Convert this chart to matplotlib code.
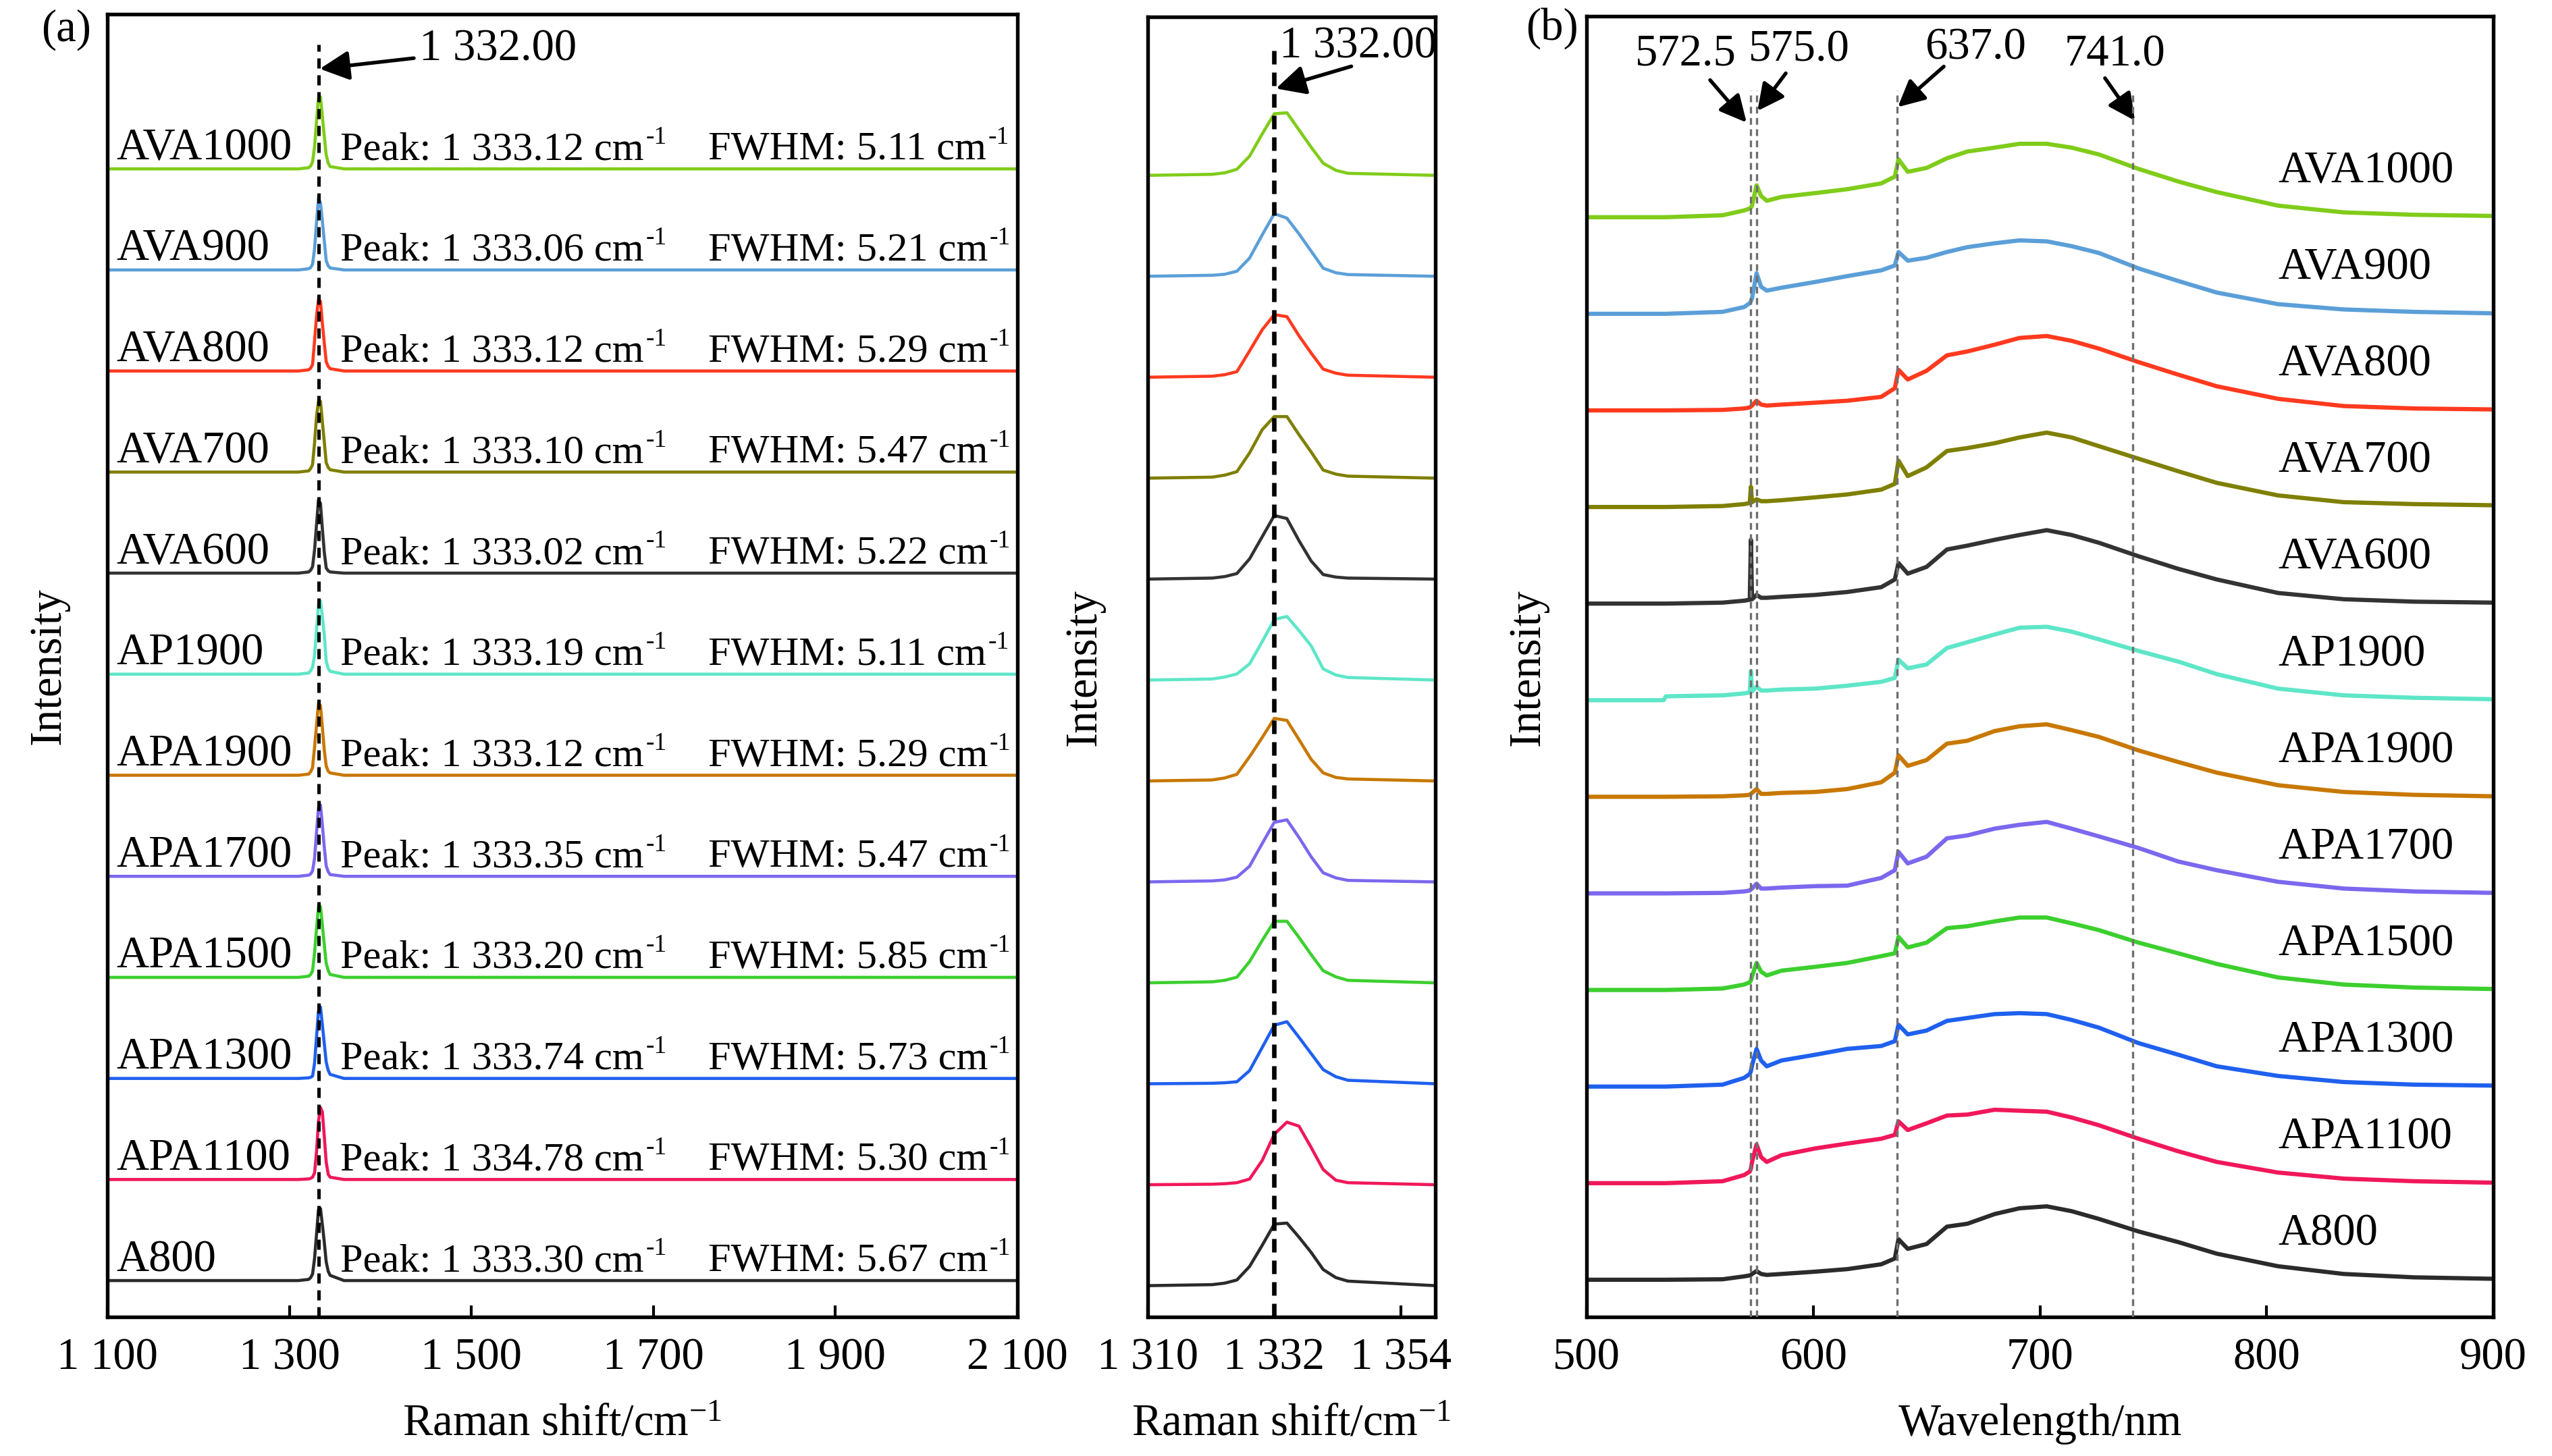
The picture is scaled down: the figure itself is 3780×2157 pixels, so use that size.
import numpy as np
import matplotlib
matplotlib.use('Agg')
import matplotlib.pyplot as plt

plt.rcParams['font.family'] = ['Liberation Serif', 'DejaVu Serif']
plt.rcParams['mathtext.fontset'] = 'custom'
plt.rcParams['mathtext.rm'] = 'Liberation Serif'
plt.rcParams['mathtext.it'] = 'Liberation Serif:italic'
plt.rcParams['mathtext.bf'] = 'Liberation Serif:bold'

# samples, bottom -> top
samples = ['A800', 'APA1100', 'APA1300', 'APA1500', 'APA1700', 'APA1900',
           'AP1900', 'AVA600', 'AVA700', 'AVA800', 'AVA900', 'AVA1000']
colors = ['#2b2b2b', '#f0185a', '#1f60ee', '#3ccf2e', '#7b68ee', '#c87800',
          '#5ee6c8', '#333333', '#7f7f00', '#ff3a1f', '#5b9fd8', '#80cc1a']
peak_pos = [1333.30, 1334.78, 1333.74, 1333.20, 1333.35, 1333.12,
            1333.19, 1333.02, 1333.10, 1333.12, 1333.06, 1333.12]
fwhm = [5.67, 5.30, 5.73, 5.85, 5.47, 5.29, 5.11, 5.22, 5.47, 5.29, 5.21, 5.11]

# Raman spectra (normalised intensity)
raman_x = [1100, 1310, 1321.2, 1323.4, 1325.5, 1327.7, 1329.9, 1332.0, 1334.2,
           1336.3, 1338.4, 1340.5, 1342.7, 1344.8, 1360, 2100]
raman_a800 = [0, 0, 0.01, 0.025, 0.056, 0.19, 0.40, 0.61, 0.62, 0.48, 0.33, 0.16, 0.08, 0.045, 0, 0]
raman_apa1100 = [0, 0, 0.005, 0.01, 0.02, 0.056, 0.24, 0.50, 0.62, 0.58, 0.37, 0.15, 0.045, 0.02, 0, 0]
raman_apa1300 = [0, 0, 0.005, 0.01, 0.02, 0.13, 0.36, 0.58, 0.615, 0.46, 0.30, 0.14, 0.07, 0.035, 0, 0]
raman_apa1500 = [0, 0, 0.01, 0.025, 0.056, 0.21, 0.42, 0.61, 0.61, 0.45, 0.28, 0.12, 0.06, 0.025, 0, 0]
raman_apa1700 = [0, 0, 0.01, 0.02, 0.047, 0.155, 0.38, 0.59, 0.615, 0.44, 0.25, 0.09, 0.04, 0.015, 0, 0]
raman_apa1900 = [0, 0, 0.01, 0.03, 0.066, 0.24, 0.43, 0.62, 0.60, 0.41, 0.215, 0.08, 0.035, 0.02, 0, 0]
raman_ap1900 = [0, 0, 0.01, 0.03, 0.06, 0.16, 0.38, 0.60, 0.63, 0.49, 0.34, 0.11, 0.05, 0.025, 0, 0]
raman_ava600 = [0, 0, 0.01, 0.025, 0.055, 0.20, 0.42, 0.63, 0.60, 0.38, 0.18, 0.045, 0.02, 0.01, 0, 0]
raman_ava700 = [0, 0, 0.01, 0.03, 0.064, 0.25, 0.48, 0.61, 0.61, 0.43, 0.26, 0.08, 0.04, 0.02, 0, 0]
raman_ava800 = [0, 0, 0.01, 0.025, 0.055, 0.26, 0.47, 0.62, 0.60, 0.41, 0.24, 0.08, 0.04, 0.02, 0, 0]
raman_ava900 = [0, 0, 0.01, 0.02, 0.05, 0.18, 0.41, 0.62, 0.576, 0.42, 0.25, 0.08, 0.035, 0.017, 0, 0]
raman_ava1000 = [0, 0, 0.01, 0.025, 0.06, 0.19, 0.41, 0.61, 0.62, 0.45, 0.28, 0.12, 0.05, 0.02, 0, 0]
raman_all = [raman_a800, raman_apa1100, raman_apa1300, raman_apa1500, raman_apa1700,
             raman_apa1900, raman_ap1900, raman_ava600, raman_ava700, raman_ava800,
             raman_ava900, raman_ava1000]

# PL spectra
wl = [500, 534, 535, 560, 569.5, 572.0, 572.5, 573.0, 575.0, 577.0, 579.5, 586, 601,
      615, 630, 636, 637.6, 641.7, 650, 659, 668, 680, 691, 703, 714, 726, 743.5,
      761, 778, 805, 834, 865, 900]
pl_a800 = [0, 0, 0, 0.005, 0.035, 0.045, 0.05, 0.06, 0.09, 0.06, 0.05, 0.06, 0.084,
           0.11, 0.16, 0.22, 0.42, 0.32, 0.37, 0.55, 0.58, 0.68, 0.74, 0.76, 0.71,
           0.63, 0.50, 0.39, 0.27, 0.14, 0.06, 0.025, 0.01]
pl_apa1100 = [0, 0, 0, 0.02, 0.084, 0.12, 0.15, 0.22, 0.40, 0.27, 0.22, 0.29, 0.36,
              0.41, 0.46, 0.50, 0.64, 0.55, 0.62, 0.70, 0.71, 0.76, 0.75, 0.74, 0.68,
              0.60, 0.46, 0.33, 0.22, 0.11, 0.047, 0.02, 0.005]
pl_apa1300 = [0, 0, 0, 0.02, 0.09, 0.13, 0.16, 0.22, 0.39, 0.27, 0.21, 0.27, 0.33,
              0.39, 0.42, 0.47, 0.64, 0.54, 0.58, 0.68, 0.71, 0.75, 0.76, 0.75, 0.69,
              0.61, 0.45, 0.33, 0.21, 0.11, 0.047, 0.02, 0.01]
pl_apa1500 = [0, 0, 0, 0.015, 0.056, 0.08, 0.10, 0.14, 0.28, 0.19, 0.15, 0.20, 0.24,
              0.28, 0.35, 0.38, 0.55, 0.44, 0.49, 0.64, 0.66, 0.71, 0.75, 0.75, 0.69,
              0.62, 0.49, 0.38, 0.27, 0.13, 0.056, 0.025, 0.01]
pl_apa1700 = [0, 0, 0, 0.005, 0.02, 0.03, 0.04, 0.05, 0.10, 0.05, 0.05, 0.06, 0.075,
              0.08, 0.16, 0.24, 0.43, 0.31, 0.38, 0.57, 0.60, 0.67, 0.71, 0.74, 0.67,
              0.59, 0.47, 0.33, 0.24, 0.12, 0.05, 0.02, 0.005]
pl_apa1900 = [0, 0, 0, 0.005, 0.015, 0.02, 0.03, 0.04, 0.08, 0.03, 0.03, 0.04, 0.05,
              0.08, 0.15, 0.25, 0.43, 0.32, 0.38, 0.55, 0.58, 0.68, 0.73, 0.75, 0.69,
              0.62, 0.48, 0.36, 0.25, 0.12, 0.05, 0.02, 0.005]
pl_ap1900 = [0, 0, 0.04, 0.05, 0.07, 0.08, 0.30, 0.09, 0.14, 0.10, 0.10, 0.11, 0.12,
             0.15, 0.19, 0.23, 0.42, 0.33, 0.37, 0.54, 0.60, 0.68, 0.75, 0.76, 0.71,
             0.63, 0.51, 0.40, 0.27, 0.12, 0.05, 0.025, 0.01]
pl_ava600 = [0, 0, 0, 0.01, 0.03, 0.04, 0.66, 0.045, 0.09, 0.06, 0.06, 0.07, 0.09,
             0.12, 0.17, 0.25, 0.42, 0.31, 0.38, 0.56, 0.60, 0.66, 0.71, 0.76, 0.71,
             0.63, 0.49, 0.36, 0.25, 0.11, 0.045, 0.02, 0.01]
pl_ava700 = [0, 0, 0, 0.01, 0.03, 0.04, 0.21, 0.05, 0.08, 0.06, 0.06, 0.07, 0.10,
             0.13, 0.18, 0.24, 0.48, 0.32, 0.41, 0.58, 0.61, 0.66, 0.72, 0.77, 0.72,
             0.63, 0.50, 0.37, 0.25, 0.12, 0.05, 0.03, 0.018]
pl_ava800 = [0, 0, 0, 0.005, 0.02, 0.03, 0.04, 0.05, 0.10, 0.06, 0.05, 0.06, 0.08,
             0.10, 0.14, 0.23, 0.42, 0.32, 0.41, 0.57, 0.61, 0.68, 0.75, 0.77, 0.72,
             0.64, 0.50, 0.37, 0.25, 0.12, 0.045, 0.02, 0.01]
pl_ava900 = [0, 0, 0, 0.02, 0.07, 0.11, 0.13, 0.16, 0.42, 0.28, 0.24, 0.27, 0.33,
             0.39, 0.45, 0.50, 0.64, 0.55, 0.58, 0.64, 0.69, 0.73, 0.76, 0.75, 0.70,
             0.63, 0.47, 0.34, 0.22, 0.10, 0.045, 0.02, 0.005]
pl_ava1000 = [0, 0, 0, 0.02, 0.07, 0.09, 0.10, 0.12, 0.33, 0.22, 0.17, 0.21, 0.25,
              0.29, 0.35, 0.42, 0.60, 0.47, 0.51, 0.61, 0.68, 0.72, 0.76, 0.76, 0.72,
              0.65, 0.50, 0.37, 0.26, 0.12, 0.05, 0.025, 0.013]
pl_all = [pl_a800, pl_apa1100, pl_apa1300, pl_apa1500, pl_apa1700, pl_apa1900,
          pl_ap1900, pl_ava600, pl_ava700, pl_ava800, pl_ava900, pl_ava1000]

pl_marks = [572.5, 575.0, 637.0, 741.0]

FS = 16
FS_PK = 14.5

fig = plt.figure(figsize=(12.6, 7.1933), dpi=300)
ax_a = fig.add_axes([0.04206, 0.09546, 0.3566, 0.8943])
ax_m = fig.add_axes([0.44974, 0.09546, 0.1127, 0.8925])
ax_b = fig.add_axes([0.62169, 0.09546, 0.3553, 0.8929])


def style(ax, ticks, labels, xlim, ylim):
    ax.set_xlim(*xlim)
    ax.set_ylim(*ylim)
    ax.set_xticks(ticks)
    ax.set_xticklabels(labels)
    ax.set_yticks([])
    ax.tick_params(axis='x', direction='in', length=4, width=1.0,
                   labelsize=FS, pad=7)
    for s in ax.spines.values():
        s.set_linewidth(1.3)


def cm_text(ax, x, y, s):
    # text ending in "cm" with a small, tight "-1" superscript
    t = ax.text(x, y, s + ' cm', fontsize=FS_PK, va='baseline')
    ax.annotate('-1', xy=(1, 1), xycoords=t, xytext=(0.6, 2.2),
                textcoords='offset points', fontsize=9, ha='left', va='top')


# ---- (a) full Raman spectra
style(ax_a, [1100, 1300, 1500, 1700, 1900, 2100],
      ['1 100', '1 300', '1 500', '1 700', '1 900', '2 100'],
      (1100, 2100), (-0.36, 12.53))
for i, (name, y) in enumerate(zip(samples, raman_all)):
    ax_a.plot(raman_x, np.array(y) * 1.15 + i, color=colors[i], lw=1.1)
    ax_a.text(1110, i + 0.1, name, fontsize=FS, va='baseline')
    pk = f'{peak_pos[i]:,.2f}'.replace(',', ' ')
    cm_text(ax_a, 1356, i + 0.1, f'Peak: {pk}')
    cm_text(ax_a, 1760, i + 0.1, f'FWHM: {fwhm[i]:.2f}')
ax_a.vlines(1332, -0.36, 12.23, colors='k', linestyles=(0, (3, 2)), lw=1.2, zorder=5)
ax_a.annotate('1 332.00', xy=(1333.5, 11.99), xytext=(1443, 12.19), fontsize=FS,
              va='center', arrowprops=dict(arrowstyle='-|>', color='k', lw=1.3,
                                           mutation_scale=22, shrinkA=0, shrinkB=0))
ax_a.set_xlabel('Raman shift/cm$^{-1}$', fontsize=FS)
ax_a.xaxis.set_label_coords(0.5, -0.066)
ax_a.set_ylabel('Intensity', fontsize=FS)
ax_a.yaxis.set_label_coords(-0.042, 0.5)

# ---- middle: zoom on the diamond peak
style(ax_m, [1310, 1332, 1354], ['1 310', '1 332', '1 354'],
      (1310, 1360), (-0.31, 12.57))
for i, y in enumerate(raman_all):
    ax_m.plot(raman_x, np.array(y) + i, color=colors[i], lw=1.1)
ax_m.vlines(1332, -0.31, 12.3, colors='k', linestyles=(0, (3, 1.8)), lw=1.6, zorder=5)
ax_m.annotate('1 332.00', xy=(1332.3, 11.86), xytext=(1332.9, 12.28), fontsize=FS,
              va='center', annotation_clip=False)
ax_m.annotate('', xy=(1332.3, 11.86), xytext=(1345.4, 12.08),
              arrowprops=dict(arrowstyle='-|>', color='k', lw=1.3,
                              mutation_scale=22, shrinkA=0, shrinkB=0))
ax_m.set_xlabel('Raman shift/cm$^{-1}$', fontsize=FS)
ax_m.xaxis.set_label_coords(0.5, -0.066)
ax_m.set_ylabel('Intensity', fontsize=FS)
ax_m.yaxis.set_label_coords(-0.148, 0.5)

# ---- (b) PL spectra
style(ax_b, [500, 600, 700, 800, 900], ['500', '600', '700', '800', '900'],
      (500, 900), (-0.385, 13.08))
for i, (name, y) in enumerate(zip(samples, pl_all)):
    ax_b.plot(wl, np.array(y) + i, color=colors[i], lw=1.5)
    ax_b.text(805, i + 0.48, name, fontsize=FS, va='center')
ax_b.vlines(pl_marks, -0.385, 12.31, colors='#707070', linestyles=(0, (3, 2)),
            lw=0.8, zorder=5)
mark_text = [(543.6, 12.69), (593.8, 12.74), (671.5, 12.76), (733.2, 12.69)]
arrow_from = [(554.5, 12.42), (587.9, 12.49), (657.6, 12.56), (728.7, 12.44)]
arrow_to = [(570.6, 11.98), (575.4, 12.10), (637.3, 12.14), (741.9, 12.0)]
for m, t, a0, a1 in zip(pl_marks, mark_text, arrow_from, arrow_to):
    ax_b.text(t[0], t[1], f'{m:.1f}', fontsize=FS, ha='center', va='center')
    ax_b.annotate('', xy=a1, xytext=a0,
                  arrowprops=dict(arrowstyle='-|>', color='k', lw=1.3,
                                  mutation_scale=20, shrinkA=0, shrinkB=0))
ax_b.set_xlabel('Wavelength/nm', fontsize=FS)
ax_b.xaxis.set_label_coords(0.5, -0.066)
ax_b.set_ylabel('Intensity', fontsize=FS)
ax_b.yaxis.set_label_coords(-0.042, 0.5)

fig.text(0.0161, 0.994, '(a)', fontsize=FS, va='top')
fig.text(0.598, 0.995, '(b)', fontsize=FS, va='top')

fig.savefig('out.png', dpi=300, facecolor='white')
